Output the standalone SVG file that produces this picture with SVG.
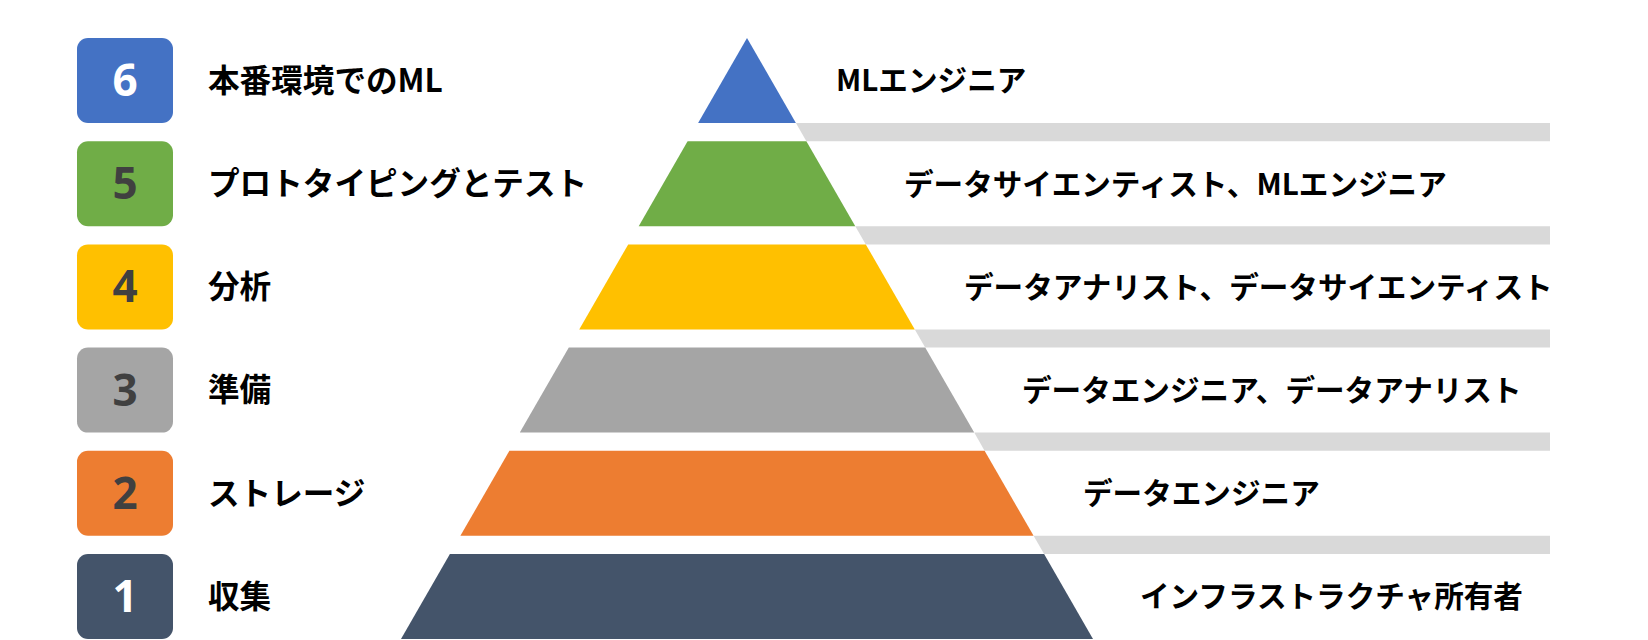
<svg xmlns="http://www.w3.org/2000/svg" width="1648" height="640" viewBox="0 0 1648 640">
<style>
.num{font-family:"Open Sans","Noto Sans","Liberation Sans",sans-serif;font-weight:700;font-size:44px;text-anchor:middle}
.lbl{font-family:"Noto Sans CJK JP","Noto Sans",sans-serif;font-weight:700;font-size:31.6px;fill:#000}
.role{font-family:"Noto Sans CJK JP","Noto Sans",sans-serif;font-weight:700;font-size:29.6px;fill:#000}
.bar{fill:#d9d9d9}
.dk{fill:#404040}
.wt{fill:#ffffff}
</style>
<rect width="1648" height="640" fill="#ffffff"/>
<g id="connectors">
<polygon class="bar" points="795.9,123 1550,123 1550,141.2 806.4,141.2"/>
<polygon class="bar" points="855.3,226.2 1550,226.2 1550,244.4 865.8,244.4"/>
<polygon class="bar" points="914.8,329.4 1550,329.4 1550,347.6 925.2,347.6"/>
<polygon class="bar" points="974.2,432.6 1550,432.6 1550,450.8 984.6,450.8"/>
<polygon class="bar" points="1033.6,535.8 1550,535.8 1550,554 1044.1,554"/>
</g>
<g id="level6">
<rect x="77" y="38" width="96" height="85" rx="11" fill="#4472C4"/>
<text class="num wt" x="125" y="96">6</text>
<text class="lbl" x="208" y="91.5">本番環境でのML</text>
<polygon points="747,38 795.9,123 698.1,123" fill="#4472C4"/>
<text class="role" x="836" y="91">MLエンジニア</text>
</g>
<g id="level5">
<rect x="77" y="141.2" width="96" height="85" rx="11" fill="#70AD47"/>
<text class="num dk" x="125" y="199.2">5</text>
<text class="lbl" x="208" y="195">プロトタイピングとテスト</text>
<polygon points="687.6,141.2 806.4,141.2 855.3,226.2 638.7,226.2" fill="#70AD47"/>
<text class="role" x="904" y="194.5">データサイエンティスト、MLエンジニア</text>
</g>
<g id="level4">
<rect x="77" y="244.4" width="96" height="85" rx="11" fill="#FFC000"/>
<text class="num dk" x="125" y="302.4">4</text>
<text class="lbl" x="208" y="298.2">分析</text>
<polygon points="628.2,244.4 865.8,244.4 914.8,329.4 579.2,329.4" fill="#FFC000"/>
<text class="role" x="964" y="297.7">データアナリスト、データサイエンティスト</text>
</g>
<g id="level3">
<rect x="77" y="347.6" width="96" height="85" rx="11" fill="#A5A5A5"/>
<text class="num dk" x="125" y="405.6">3</text>
<text class="lbl" x="208" y="401.4">準備</text>
<polygon points="568.8,347.6 925.2,347.6 974.2,432.6 519.8,432.6" fill="#A5A5A5"/>
<text class="role" x="1022" y="400.9">データエンジニア、データアナリスト</text>
</g>
<g id="level2">
<rect x="77" y="450.8" width="96" height="85" rx="11" fill="#ED7D31"/>
<text class="num dk" x="125" y="508.8">2</text>
<text class="lbl" x="208" y="504.6">ストレージ</text>
<polygon points="509.4,450.8 984.6,450.8 1033.6,535.8 460.4,535.8" fill="#ED7D31"/>
<text class="role" x="1083" y="504.1">データエンジニア</text>
</g>
<g id="level1">
<rect x="77" y="554" width="96" height="85" rx="11" fill="#44546A"/>
<text class="num wt" x="125" y="612">1</text>
<text class="lbl" x="208" y="607.8">収集</text>
<polygon points="449.9,554 1044.1,554 1093,639 401,639" fill="#44546A"/>
<text class="role" x="1140" y="607.3">インフラストラクチャ所有者</text>
</g>
</svg>
